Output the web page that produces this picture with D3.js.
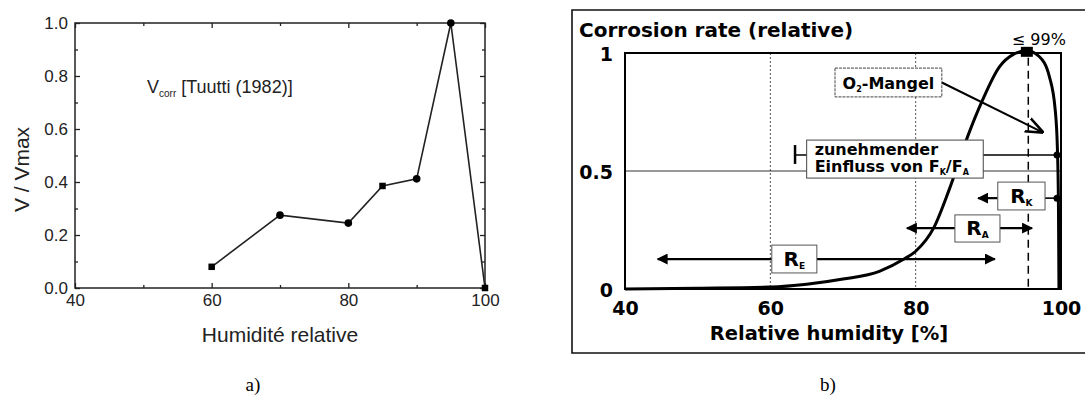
<!DOCTYPE html>
<html><head><meta charset="utf-8">
<script src="https://cdn.jsdelivr.net/npm/d3@7"></script>
<style>body{margin:0;background:#fff}svg{display:block}</style>
</head><body>
<svg id="c" width="1085" height="405"></svg>
<script>
// ---------- Panel a data ----------
const humidityA = [60, 70, 80, 85, 90, 95, 100];
const vRatioA   = [0.08, 0.275, 0.245, 0.385, 0.412, 1.0, 0.0];
const markerA   = ['square','circle','circle','square','circle','circle','square'];
const xTicksA   = [40, 60, 80, 100];
const xMinorA   = [50, 70, 90];
const yTicksA   = [0, 0.2, 0.4, 0.6, 0.8, 1.0];
const yMinorA   = [0.1, 0.3, 0.5, 0.7, 0.9];

// ---------- Panel b data ----------
const curveHumidity = [40, 50, 60, 65, 70, 75, 78.4, 80, 82.5, 84.6, 87.2, 89.2, 91.5, 93.5, 95.3, 97, 98.4, 99.2, 99.5, 99.65, 99.72];
const curveRate     = [0, 0.003, 0.008, 0.02, 0.042, 0.075, 0.127, 0.16, 0.26, 0.42, 0.65, 0.80, 0.94, 0.995, 1.01, 0.985, 0.90, 0.76, 0.6, 0.35, 0];
const xTicksB = [40, 60, 80, 100];
const yTicksB = [0, 0.5, 1];
const peakHumidity = 95.3, peakRate = 1.005;
const dashedHumidity = 95.5;
const rangeLabels = ['R', 'R', 'R'];
const rangeSubs   = ['E', 'A', 'K'];
const rangeBoxX0  = [60.2, 85.4, 91.3];
const rangeBoxX1  = [66.4, 91.6, 97.8];
const rangeBoxY0  = [0.186, 0.314, 0.453];
const rangeBoxY1  = [0.068, 0.199, 0.335];
const rangeArrowY = [0.127, 0.258, 0.385];
const rangeLeft   = [44.5, 78.8, 88.6];
const rangeRight  = [90.9, 96.0, null];
const curveDots   = [[99.45, 0.568], [99.45, 0.385]];

const svg = d3.select('#c');
const defs = svg.append('defs');
defs.append('marker').attr('id','ah').attr('viewBox','0 0 10 10').attr('refX',9).attr('refY',5)
  .attr('markerWidth',5).attr('markerHeight',5).attr('markerUnits','strokeWidth').attr('orient','auto')
  .append('path').attr('d','M0,0 L10,5 L0,10 Z').attr('fill','#000');
defs.append('marker').attr('id','ah2').attr('viewBox','0 0 10 10').attr('refX',9).attr('refY',5)
  .attr('markerWidth',9).attr('markerHeight',9).attr('markerUnits','strokeWidth').attr('orient','auto')
  .append('path').attr('d','M0,1 L10,5 L0,9').attr('fill','none').attr('stroke','#000').attr('stroke-width',1.4);

// =============== Panel a ===============
const xA = d3.scaleLinear().domain([40,100]).range([75,485]);
const yA = d3.scaleLinear().domain([0,1]).range([288,23]);
const gA = svg.append('g').attr('font-family','"Liberation Sans", Arial, sans-serif');

function styleAxis(g){ g.select('.domain').remove(); g.selectAll('line').attr('stroke','#222').attr('stroke-width',1.3);
  g.selectAll('text').attr('fill','#222').attr('font-size',17).attr('font-family','"Liberation Sans", Arial, sans-serif'); }

gA.append('g').attr('transform',`translate(0,${yA(0)})`)
  .call(d3.axisBottom(xA).tickValues(xTicksA).tickFormat(d3.format('d')).tickSize(-5).tickPadding(6)).call(styleAxis);
gA.append('g').attr('transform',`translate(0,${yA(0)})`)
  .call(d3.axisBottom(xA).tickValues(xMinorA).tickFormat('').tickSize(-3)).call(styleAxis);
gA.append('g').attr('transform',`translate(0,${yA(1)})`)
  .call(d3.axisTop(xA).tickValues(xTicksA).tickFormat('').tickSize(-5)).call(styleAxis);
gA.append('g').attr('transform',`translate(0,${yA(1)})`)
  .call(d3.axisTop(xA).tickValues(xMinorA).tickFormat('').tickSize(-3)).call(styleAxis);
gA.append('g').attr('transform',`translate(${xA(40)},0)`)
  .call(d3.axisLeft(yA).tickValues(yTicksA).tickFormat(d3.format('.1f')).tickSize(-5).tickPadding(7)).call(styleAxis);
gA.append('g').attr('transform',`translate(${xA(40)},0)`)
  .call(d3.axisLeft(yA).tickValues(yMinorA).tickFormat('').tickSize(-3)).call(styleAxis);
gA.append('g').attr('transform',`translate(${xA(100)},0)`)
  .call(d3.axisRight(yA).tickValues(yTicksA).tickFormat('').tickSize(-5)).call(styleAxis);
gA.append('g').attr('transform',`translate(${xA(100)},0)`)
  .call(d3.axisRight(yA).tickValues(yMinorA).tickFormat('').tickSize(-3)).call(styleAxis);
gA.append('rect').attr('x',xA(40)).attr('y',yA(1)).attr('width',xA(100)-xA(40)).attr('height',yA(0)-yA(1))
  .attr('fill','none').attr('stroke','#222').attr('stroke-width',1.5);

const ptsA = humidityA.map((h,i)=>[h, vRatioA[i], markerA[i]]);
gA.append('path').datum(ptsA).attr('fill','none').attr('stroke','#222').attr('stroke-width',1.6)
  .attr('d', d3.line().x(d=>xA(d[0])).y(d=>yA(d[1])));
gA.selectAll('path.mk').data(ptsA).join('path').attr('class','mk')
  .attr('transform', d=>`translate(${xA(d[0])},${yA(d[1])})`)
  .attr('d', d=> d3.symbol().type(d[2]==='square'?d3.symbolSquare:d3.symbolCircle).size(d[2]==='square'?42:46)())
  .attr('fill','#000');

gA.append('text').attr('x', (xA(40)+xA(100))/2).attr('y',342).attr('text-anchor','middle')
  .attr('font-size',21).attr('fill','#222').text('Humidité relative');
gA.append('text').attr('transform',`translate(29,${(yA(0)+yA(1))/2+14}) rotate(-90)`).attr('text-anchor','middle')
  .attr('font-size',21).attr('fill','#222').text('V / Vmax');
const ann = gA.append('text').attr('x',147).attr('y',93).attr('font-size',18).attr('fill','#222');
ann.append('tspan').text('V');
ann.append('tspan').attr('font-size',10).attr('dy',4).text('corr');
ann.append('tspan').attr('dy',-4).text(' [Tuutti (1982)]');

// =============== Panel b ===============
const xB = d3.scaleLinear().domain([40,100]).range([625,1061]);
const yB = d3.scaleLinear().domain([0,1]).range([289,53]);
const bold = '"DejaVu Sans", Verdana, sans-serif';
const gB = svg.append('g').attr('font-family', bold).attr('font-weight','bold');

gB.append('path').attr('d','M1085,10 L572,10 L572,353 L1085,353').attr('fill','none').attr('stroke','#111').attr('stroke-width',1.6);
gB.append('text').attr('x',579).attr('y',37).attr('font-size',20).attr('fill','#000').text('Corrosion rate (relative)');

gB.append('g').selectAll('line').data([60,80]).join('line')
  .attr('x1',d=>xB(d)).attr('x2',d=>xB(d)).attr('y1',yB(1)).attr('y2',yB(0))
  .attr('stroke','#555').attr('stroke-width',1).attr('stroke-dasharray','2,2');
gB.append('line').attr('x1',xB(40)).attr('x2',xB(100)).attr('y1',yB(0.5)).attr('y2',yB(0.5))
  .attr('stroke','#333').attr('stroke-width',1.1);

const axB = gB.append('g').attr('transform',`translate(0,${yB(0)})`)
  .call(d3.axisBottom(xB).tickValues(xTicksB).tickFormat(d3.format('d')).tickSize(0).tickPadding(13));
axB.select('.domain').remove();
axB.selectAll('text').attr('font-size',19).attr('font-family',bold).attr('font-weight','bold').attr('fill','#000');
const ayB = gB.append('g').attr('transform',`translate(${xB(40)},0)`)
  .call(d3.axisLeft(yB).tickValues(yTicksB).tickFormat(d=>d===0.5?'0.5':String(d)).tickSize(0).tickPadding(12));
ayB.select('.domain').remove();
ayB.selectAll('text').attr('font-size',19).attr('font-family',bold).attr('font-weight','bold').attr('fill','#000').attr('dy','0.4em');

gB.append('rect').attr('x',xB(40)).attr('y',yB(1)).attr('width',xB(100)-xB(40)).attr('height',yB(0)-yB(1))
  .attr('fill','none').attr('stroke','#000').attr('stroke-width',2);
gB.append('text').attr('x',(xB(40)+xB(100))/2-14).attr('y',340).attr('text-anchor','middle')
  .attr('font-size',19.5).attr('fill','#000').text('Relative humidity [%]');

gB.append('line').attr('x1',xB(dashedHumidity)).attr('x2',xB(dashedHumidity)).attr('y1',yB(0.98)).attr('y2',yB(0))
  .attr('stroke','#000').attr('stroke-width',1.5).attr('stroke-dasharray','8,5');

const brY = 0.568, brX0 = 63.4, brBox = [65.0, 89.3, 0.631, 0.470];
gB.append('line').attr('x1',xB(brX0)).attr('x2',xB(100)).attr('y1',yB(brY)).attr('y2',yB(brY)).attr('stroke','#000').attr('stroke-width',1.4);
gB.append('line').attr('x1',xB(brX0)).attr('x2',xB(brX0)).attr('y1',yB(0.61)).attr('y2',yB(0.53)).attr('stroke','#000').attr('stroke-width',2.5);

const ptsB = curveHumidity.map((h,i)=>[h, curveRate[i]]);
gB.append('path').datum(ptsB).attr('fill','none').attr('stroke','#000').attr('stroke-width',3)
  .attr('d', d3.line().x(d=>xB(d[0])).y(d=>yB(d[1])).curve(d3.curveMonotoneX));
gB.selectAll('circle.cd').data(curveDots).join('circle').attr('class','cd')
  .attr('cx',d=>xB(d[0])).attr('cy',d=>yB(d[1])).attr('r',3.5).attr('fill','#000');

gB.append('rect').attr('x',xB(peakHumidity)-6).attr('y',yB(peakRate)-5).attr('width',12).attr('height',10).attr('fill','#000');
gB.append('text').attr('x',xB(peakHumidity)-15).attr('y',45).attr('font-size',16).attr('font-weight','normal').attr('fill','#000').text('≤ 99%');

const o2 = [68.9, 83.6, 0.936, 0.814];
gB.append('line').attr('x1',xB(o2[1])).attr('y1',yB(0.875)).attr('x2',xB(97.4)).attr('y2',yB(0.665))
  .attr('stroke','#000').attr('stroke-width',2).attr('marker-end','url(#ah2)');
gB.append('rect').attr('x',xB(o2[0])).attr('y',yB(o2[2])).attr('width',xB(o2[1])-xB(o2[0])).attr('height',yB(o2[3])-yB(o2[2]))
  .attr('fill','#fff').attr('stroke','#444').attr('stroke-width',1).attr('stroke-dasharray','3,1');
const o2t = gB.append('text').attr('x',(xB(o2[0])+xB(o2[1]))/2).attr('y',yB(0.875)+6).attr('text-anchor','middle').attr('font-size',16).attr('fill','#000');
o2t.append('tspan').text('O');
o2t.append('tspan').attr('font-size',8).attr('dy',3).text('2');
o2t.append('tspan').attr('dy',-3).text('-Mangel');

gB.append('rect').attr('x',xB(brBox[0])).attr('y',yB(brBox[2])).attr('width',xB(brBox[1])-xB(brBox[0])).attr('height',yB(brBox[3])-yB(brBox[2]))
  .attr('fill','#fff').attr('stroke','#444').attr('stroke-width',1);
gB.append('text').attr('x',xB(brBox[0])+8).attr('y',yB(brBox[2])+15).attr('font-size',16).attr('fill','#000').text('zunehmender');
const inf = gB.append('text').attr('x',xB(brBox[0])+8).attr('y',yB(brBox[2])+32).attr('font-size',16).attr('fill','#000');
inf.append('tspan').text('Einfluss von F');
inf.append('tspan').attr('font-size',8).attr('dy',3).text('K');
inf.append('tspan').attr('dy',-3).text('/F');
inf.append('tspan').attr('font-size',8).attr('dy',3).text('A');

rangeLabels.forEach((lab,i)=>{
  const ay = yB(rangeArrowY[i]);
  gB.append('line').attr('x1',xB(rangeBoxX0[i])).attr('x2',xB(rangeLeft[i])).attr('y1',ay).attr('y2',ay)
    .attr('stroke','#000').attr('stroke-width',2.2).attr('marker-end','url(#ah)');
  if (rangeRight[i] !== null) {
    gB.append('line').attr('x1',xB(rangeBoxX1[i])).attr('x2',xB(rangeRight[i])).attr('y1',ay).attr('y2',ay)
      .attr('stroke','#000').attr('stroke-width',2.2).attr('marker-end','url(#ah)');
  } else {
    gB.append('line').attr('x1',xB(rangeBoxX1[i])).attr('x2',xB(curveDots[1][0])).attr('y1',ay).attr('y2',ay)
      .attr('stroke','#000').attr('stroke-width',1.6);
  }
  const bx0 = xB(rangeBoxX0[i]), bx1 = xB(rangeBoxX1[i]), by0 = yB(rangeBoxY0[i]), by1 = yB(rangeBoxY1[i]);
  gB.append('rect').attr('x',bx0).attr('y',by0).attr('width',bx1-bx0).attr('height',by1-by0)
    .attr('fill','#fff').attr('stroke','#555').attr('stroke-width',1);
  const t = gB.append('text').attr('x',(bx0+bx1)/2).attr('y',(by0+by1)/2+7).attr('text-anchor','middle').attr('font-size',20).attr('fill','#000');
  t.append('tspan').text(lab);
  t.append('tspan').attr('font-size',9).attr('dy',3).text(rangeSubs[i]);
});

svg.append('text').attr('x',253).attr('y',391).attr('text-anchor','middle').attr('font-family','"Liberation Serif", "Times New Roman", serif')
  .attr('font-size',19).attr('fill','#000').text('a)');
svg.append('text').attr('x',828).attr('y',391).attr('text-anchor','middle').attr('font-family','"Liberation Serif", "Times New Roman", serif')
  .attr('font-size',19).attr('fill','#000').text('b)');
</script>
</body></html>
